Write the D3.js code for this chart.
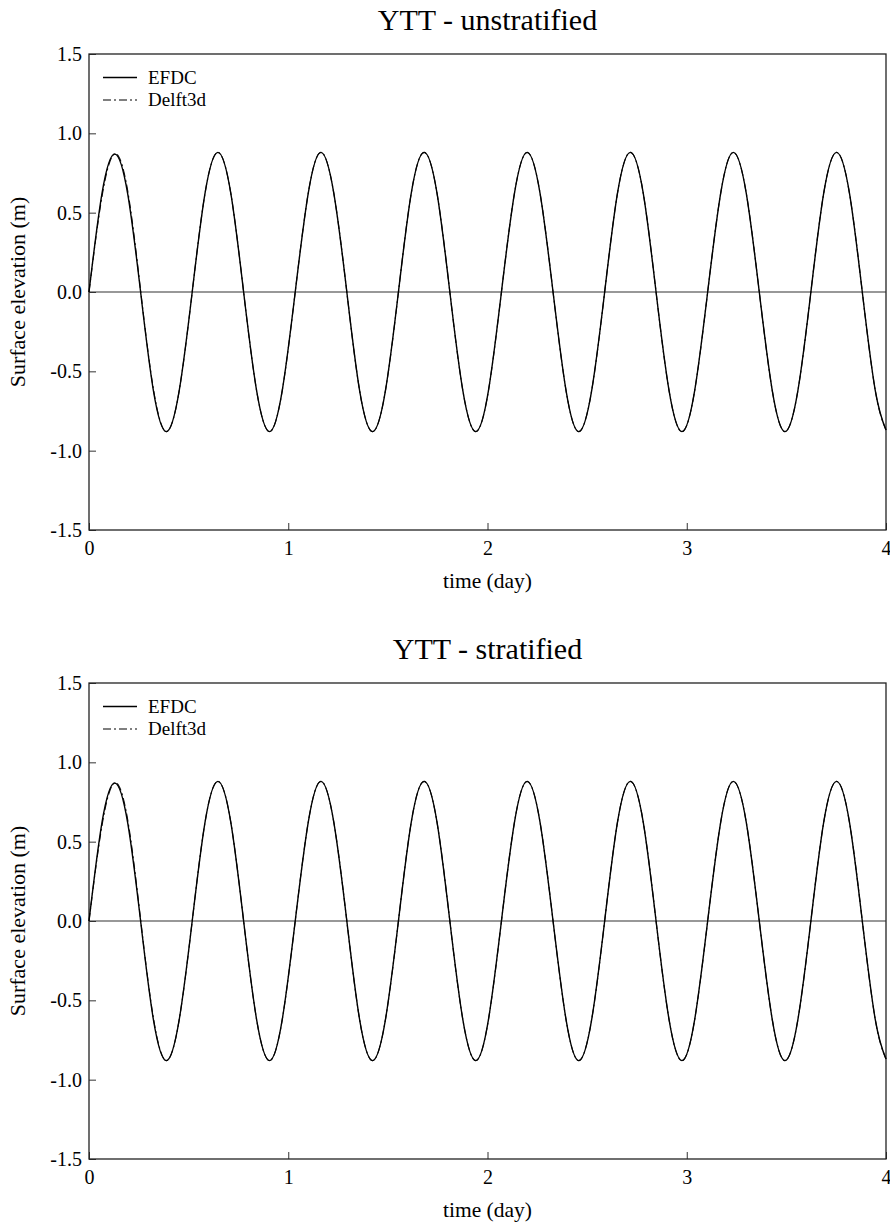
<!DOCTYPE html>
<html>
<head>
<meta charset="utf-8">
<script src="https://cdn.jsdelivr.net/npm/d3@7"></script>
<style>
  body { margin: 0; background: #fff; }
  svg { display: block; }
  text { font-family: "Liberation Serif", "Times New Roman", serif; fill: #000; }
</style>
</head>
<body>
<div id="chart"></div>
<script>
// time samples (day)
const timeDay = [0.000, 0.065, 0.129, 0.194, 0.259, 0.323, 0.388, 0.453,
  0.518, 0.582, 0.647, 0.712, 0.776, 0.841, 0.906, 0.970,
  1.035, 1.100, 1.164, 1.229, 1.294, 1.358, 1.423, 1.488,
  1.553, 1.617, 1.682, 1.747, 1.811, 1.876, 1.941, 2.005,
  2.070, 2.135, 2.199, 2.264, 2.329, 2.394, 2.458, 2.523,
  2.588, 2.652, 2.717, 2.782, 2.846, 2.911, 2.976, 3.040,
  3.105, 3.170, 3.234, 3.299, 3.364, 3.429, 3.493, 3.558,
  3.623, 3.687, 3.752, 3.817, 3.881, 3.946, 4.000];

// surface elevation (m), unstratified run
const efdcUnstrat = [0.00, 0.62, 0.87, 0.62, 0.00, -0.62, -0.88, -0.62,
  0.00, 0.62, 0.88, 0.62, 0.00, -0.62, -0.88, -0.62,
  0.00, 0.62, 0.88, 0.62, 0.00, -0.62, -0.88, -0.62,
  0.00, 0.62, 0.88, 0.62, 0.00, -0.62, -0.88, -0.62,
  0.00, 0.62, 0.88, 0.62, 0.00, -0.62, -0.88, -0.62,
  0.00, 0.62, 0.88, 0.62, 0.00, -0.62, -0.88, -0.62,
  0.00, 0.62, 0.88, 0.62, 0.00, -0.62, -0.88, -0.62,
  0.00, 0.62, 0.88, 0.62, 0.00, -0.62, -0.87];
const delftUnstrat = [0.00, 0.60, 0.87, 0.64, 0.01, -0.61, -0.88, -0.62,
  0.00, 0.62, 0.88, 0.62, 0.00, -0.62, -0.88, -0.62,
  0.00, 0.62, 0.88, 0.62, 0.00, -0.62, -0.88, -0.62,
  0.00, 0.62, 0.88, 0.62, 0.00, -0.62, -0.88, -0.62,
  0.00, 0.62, 0.88, 0.62, 0.00, -0.62, -0.88, -0.62,
  0.00, 0.62, 0.88, 0.62, 0.00, -0.62, -0.88, -0.62,
  0.00, 0.62, 0.88, 0.62, 0.00, -0.62, -0.88, -0.62,
  0.00, 0.62, 0.88, 0.62, 0.00, -0.62, -0.87];

// surface elevation (m), stratified run
const efdcStrat = [0.00, 0.62, 0.87, 0.62, 0.00, -0.62, -0.88, -0.62,
  0.00, 0.62, 0.88, 0.62, 0.00, -0.62, -0.88, -0.62,
  0.00, 0.62, 0.88, 0.62, 0.00, -0.62, -0.88, -0.62,
  0.00, 0.62, 0.88, 0.62, 0.00, -0.62, -0.88, -0.62,
  0.00, 0.62, 0.88, 0.62, 0.00, -0.62, -0.88, -0.62,
  0.00, 0.62, 0.88, 0.62, 0.00, -0.62, -0.88, -0.62,
  0.00, 0.62, 0.88, 0.62, 0.00, -0.62, -0.88, -0.62,
  0.00, 0.62, 0.88, 0.62, 0.00, -0.62, -0.87];
const delftStrat = [0.00, 0.60, 0.87, 0.64, 0.01, -0.61, -0.88, -0.62,
  0.00, 0.62, 0.88, 0.62, 0.00, -0.62, -0.88, -0.62,
  0.00, 0.62, 0.88, 0.62, 0.00, -0.62, -0.88, -0.62,
  0.00, 0.62, 0.88, 0.62, 0.00, -0.62, -0.88, -0.62,
  0.00, 0.62, 0.88, 0.62, 0.00, -0.62, -0.88, -0.62,
  0.00, 0.62, 0.88, 0.62, 0.00, -0.62, -0.88, -0.62,
  0.00, 0.62, 0.88, 0.62, 0.00, -0.62, -0.88, -0.62,
  0.00, 0.62, 0.88, 0.62, 0.00, -0.62, -0.87];

const xTicks = [0, 1, 2, 3, 4];
const yTicks = [-1.5, -1.0, -0.5, 0.0, 0.5, 1.0, 1.5];
const seriesNames = ["EFDC", "Delft3d"];

const width = 890, height = 1224;
const svg = d3.select("#chart").append("svg")
  .attr("width", width)
  .attr("height", height);

const x = d3.scaleLinear().domain([0, 4]).range([89, 886]);

function drawPanel(top, title, efdc, delft) {
  const bottom = top + 476;
  const y = d3.scaleLinear().domain([-1.5, 1.5]).range([bottom, top]);
  const g = svg.append("g");

  // title
  g.append("text")
    .attr("x", (x.range()[0] + x.range()[1]) / 2)
    .attr("y", top - 24)
    .attr("text-anchor", "middle")
    .style("font-size", "30px")
    .text(title);

  // axes, ticks inside
  const yAxis = g.append("g")
    .attr("transform", `translate(${x.range()[0]},0)`)
    .call(d3.axisLeft(y).tickValues(yTicks).tickSizeInner(-7).tickSizeOuter(0)
      .tickPadding(7).tickFormat(d => d.toFixed(1)));
  const xAxis = g.append("g")
    .attr("transform", `translate(0,${bottom})`)
    .call(d3.axisBottom(x).tickValues(xTicks).tickSizeInner(-7).tickSizeOuter(0)
      .tickPadding(11).tickFormat(d3.format("d")));
  [yAxis, xAxis].forEach(a => {
    a.attr("font-family", null).attr("font-size", null);
    a.select(".domain").remove();
    a.selectAll("text").style("font-size", "20px");
    a.selectAll("line").attr("stroke", "#333");
  });

  // frame
  g.append("rect")
    .attr("x", x.range()[0]).attr("y", top)
    .attr("width", x.range()[1] - x.range()[0]).attr("height", bottom - top)
    .attr("fill", "none").attr("stroke", "#222").attr("stroke-width", 1.3);

  // zero line
  g.append("line")
    .attr("x1", x.range()[0]).attr("x2", x.range()[1])
    .attr("y1", y(0)).attr("y2", y(0))
    .attr("stroke", "#333").attr("stroke-width", 1.2);

  const line = d3.line()
    .x((d, i) => x(timeDay[i]))
    .y(d => y(d))
    .curve(d3.curveNatural);

  g.append("path").datum(delft)
    .attr("d", line).attr("fill", "none")
    .attr("stroke", "#111").attr("stroke-width", 1.1)
    .attr("stroke-dasharray", "8,3,2,3");
  g.append("path").datum(efdc)
    .attr("d", line).attr("fill", "none")
    .attr("stroke", "#000").attr("stroke-width", 1.4);

  // legend
  const leg = g.append("g");
  seriesNames.forEach((name, i) => {
    const ly = top + 23.5 + i * 22.5;
    leg.append("line")
      .attr("x1", 103).attr("x2", 137).attr("y1", ly).attr("y2", ly)
      .attr("stroke", "#000")
      .attr("stroke-width", i === 0 ? 1.3 : 1.1)
      .attr("stroke-dasharray", i === 0 ? null : "8,3,2,3");
    leg.append("text")
      .attr("x", 148).attr("y", ly + 6)
      .style("font-size", "19px")
      .text(name);
  });

  // axis labels
  g.append("text")
    .attr("x", (x.range()[0] + x.range()[1]) / 2)
    .attr("y", bottom + 58)
    .attr("text-anchor", "middle")
    .style("font-size", "21.5px")
    .text("time (day)");
  g.append("text")
    .attr("transform", `translate(25,${(top + bottom) / 2}) rotate(-90)`)
    .attr("text-anchor", "middle")
    .style("font-size", "22px")
    .text("Surface elevation (m)");
}

drawPanel(54, "YTT - unstratified", efdcUnstrat, delftUnstrat);
drawPanel(683, "YTT - stratified", efdcStrat, delftStrat);
</script>
</body>
</html>
